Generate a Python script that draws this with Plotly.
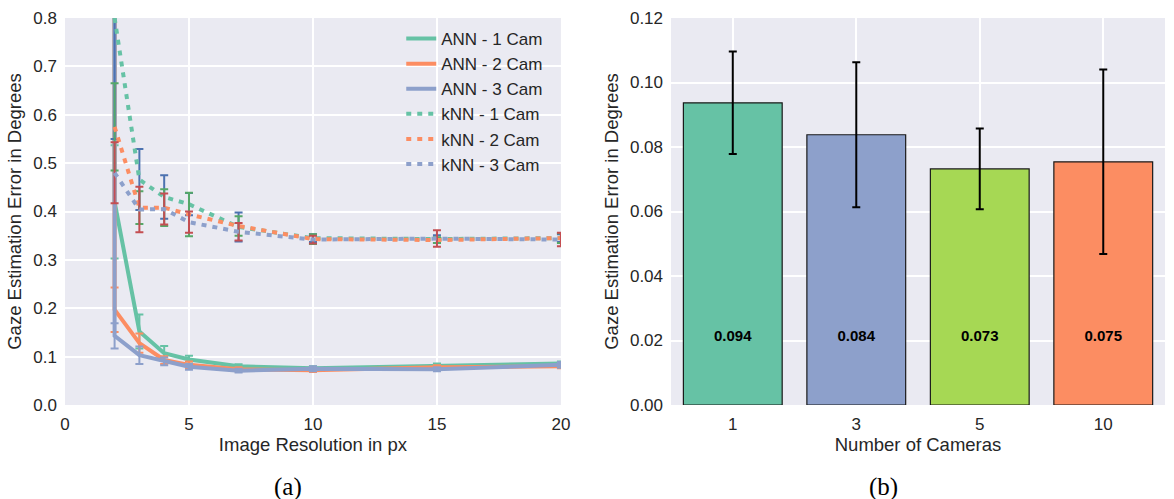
import plotly.graph_objects as go

# ---------------- data ----------------
# (a) error vs. image resolution
ann_res = [2, 2, 3, 4, 5, 7, 10, 15, 20]          # first point: off-scale value drawn as vertical at x=2
knn_res = [2, 3, 4, 5, 7, 10, 15, 20]

ann_1 = [1.5, 0.420, 0.152, 0.107, 0.094, 0.080, 0.076, 0.082, 0.086]
ann_1_err = [0, 0.117, 0.035, 0.015, 0.008, 0.004, 0.004, 0.004, 0.004]
ann_2 = [1.5, 0.197, 0.128, 0.093, 0.083, 0.074, 0.072, 0.078, 0.080]
ann_2_err = [0, 0.046, 0.020, 0.008, 0.007, 0.004, 0.004, 0.004, 0.004]
ann_3 = [1.5, 0.143, 0.103, 0.090, 0.079, 0.071, 0.075, 0.074, 0.083]
ann_3_err = [0, 0.026, 0.018, 0.008, 0.006, 0.004, 0.005, 0.004, 0.006]

knn_1 = [0.800, 0.466, 0.430, 0.415, 0.368, 0.345, 0.343, 0.345]
knn_1_err = [0.250, 0.063, 0.045, 0.023, 0.030, 0.008, 0.008, 0.008]
knn_2 = [0.575, 0.408, 0.408, 0.394, 0.370, 0.343, 0.341, 0.345]
knn_2_err = [0.090, 0.034, 0.038, 0.045, 0.020, 0.010, 0.006, 0.010]
knn_3 = [0.480, 0.404, 0.405, 0.378, 0.358, 0.342, 0.344, 0.342]
knn_3_err = [0.063, 0.047, 0.032, 0.022, 0.018, 0.008, 0.017, 0.014]

# (b) error vs. number of cameras
cameras = ["1", "3", "5", "10"]
cam_err = [0.0937, 0.0838, 0.0732, 0.0754]
cam_std = [0.0159, 0.0225, 0.0125, 0.0286]
cam_labels = ["0.094", "0.084", "0.073", "0.075"]

# ---------------- styling ----------------
FONT = "Liberation Sans, Arial, sans-serif"
TXT = "#262626"
BG = "#EAEAF2"
c_green, c_orange, c_blue, c_lime = "#66C2A5", "#FC8D62", "#8DA0CB", "#A6D854"
e_blue, e_green, e_red = "#4C72B0", "#55A868", "#C44E52"
LABEL_Y = 0.021

fig = go.Figure()

def err(arr, color):
    return dict(type="data", array=arr, visible=True, color=color, thickness=2, width=4)

for name, y, e, col in [("ANN - 1 Cam", ann_1, ann_1_err, c_green),
                        ("ANN - 2 Cam", ann_2, ann_2_err, c_orange),
                        ("ANN - 3 Cam", ann_3, ann_3_err, c_blue)]:
    fig.add_trace(go.Scatter(x=ann_res, y=y, name=name, mode="lines",
                             line=dict(color=col, width=4),
                             error_y=err(e, col), xaxis="x", yaxis="y"))

for name, y, e, col, ecol in [("kNN - 1 Cam", knn_1, knn_1_err, c_green, e_blue),
                              ("kNN - 2 Cam", knn_2, knn_2_err, c_orange, e_green),
                              ("kNN - 3 Cam", knn_3, knn_3_err, c_blue, e_red)]:
    fig.add_trace(go.Scatter(x=knn_res, y=y, name=name, mode="lines",
                             line=dict(color=col, width=4, dash="5px,6px"),
                             error_y=err(e, ecol), xaxis="x", yaxis="y"))

fig.add_trace(go.Bar(x=cameras, y=cam_err, xaxis="x2", yaxis="y2", showlegend=False,
                     marker=dict(color=[c_green, c_blue, c_lime, c_orange],
                                 line=dict(color="#1a1a1a", width=1.2)),
                     error_y=dict(type="data", array=cam_std, visible=True,
                                  color="black", thickness=2, width=4)))
fig.add_trace(go.Scatter(x=cameras, y=[LABEL_Y] * len(cameras), text=cam_labels,
                         mode="text", xaxis="x2", yaxis="y2", showlegend=False,
                         textfont=dict(family=FONT, size=15, color="black", weight="bold")))

L, R, T, B = 65, 0, 18, 94
W, H = 1174, 499
pw = W - L - R
ph = H - T - B

def px_x(p):
    return (p - L) / pw

def px_y(p):
    return (H - B - p) / ph

axis_common = dict(showline=False, zeroline=False, gridcolor="white", gridwidth=1.5,
                   ticks="", tickfont=dict(family=FONT, size=17, color=TXT),
                   ticklabelstandoff=7)

fig.update_layout(
    width=W, height=H, autosize=False,
    margin=dict(l=L, r=R, t=T, b=B),
    paper_bgcolor="white", plot_bgcolor=BG,
    font=dict(family=FONT, color=TXT),
    xaxis=dict(domain=[0, px_x(565)], range=[0, 20], tickvals=[0, 5, 10, 15, 20],
               title=dict(text="Image Resolution in px", font=dict(size=18.5), standoff=4),
               **axis_common),
    yaxis=dict(domain=[0, 1], range=[0, 0.8], dtick=0.1, tickformat=".1f",
               title=dict(text="Gaze Estimation Error in Degrees", font=dict(size=18.5), standoff=6),
               **axis_common),
    xaxis2=dict(domain=[px_x(676), 1], anchor="y2", type="category",
                range=[-0.5, 3.5],
                title=dict(text="Number of Cameras", font=dict(size=18.5), standoff=4),
                **axis_common),
    yaxis2=dict(domain=[0, 1], anchor="x2", range=[0, 0.12], dtick=0.02, tickformat=".2f",
                title=dict(text="Gaze Estimation Error in Degrees", font=dict(size=18.5), standoff=6),
                **axis_common),
    legend=dict(x=px_x(404), y=px_y(21), xanchor="left", yanchor="top",
                bgcolor="rgba(0,0,0,0)", borderwidth=0, tracegroupgap=0,
                font=dict(family=FONT, size=17, color=TXT)),
    bargap=0.2,
    showlegend=True,
)

for txt, xp in [("(a)", 290), ("(b)", 890)]:
    fig.add_annotation(text=txt, x=px_x(xp), y=px_y(487), xref="paper", yref="paper",
                       showarrow=False, xanchor="center", yanchor="middle",
                       font=dict(family="Liberation Serif, DejaVu Serif, serif", size=25, color="black"))

fig.write_html("out.html")
